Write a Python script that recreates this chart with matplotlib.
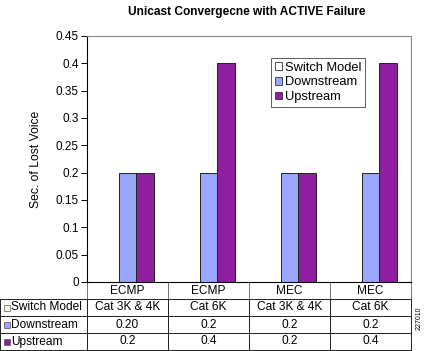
import matplotlib
matplotlib.use("Agg")
import matplotlib.pyplot as plt
from matplotlib.patches import Rectangle
import numpy as np

plt.rcParams["font.family"] = ["Liberation Sans", "DejaVu Sans"]

protocols = ["ECMP", "ECMP", "MEC", "MEC"]
switch_models = ["Cat 3K & 4K", "Cat 6K", "Cat 3K & 4K", "Cat 6K"]
downstream = [0.2, 0.2, 0.2, 0.2]
upstream = [0.2, 0.4, 0.2, 0.4]
downstream_labels = ["0.20", "0.2", "0.2", "0.2"]
upstream_labels = ["0.2", "0.4", "0.2", "0.4"]
yticks = [0, 0.05, 0.1, 0.15, 0.2, 0.25, 0.3, 0.35, 0.4, 0.45]

C_DOWN = "#9aa6ff"
C_UP = "#8e1f9e"
W, H = 425, 351

fig = plt.figure(figsize=(W / 100, H / 100), dpi=100, facecolor="white")
ax = fig.add_axes([87 / W, 1 - 282 / H, 324 / W, 246 / H])

x = np.arange(len(protocols))
bw = 0.222
# first (invisible) slot belongs to the empty "Switch Model" series
ax.bar(x - bw, [0] * len(x), bw, color="white", edgecolor="none", label="Switch Model")
ax.bar(x, downstream, bw, color=C_DOWN, edgecolor="#222222", linewidth=0.7, label="Downstream")
ax.bar(x + bw, upstream, bw, color=C_UP, edgecolor="#222222", linewidth=0.7, label="Upstream")

ax.set_xlim(-0.5, len(x) - 0.5)
ax.set_ylim(0, 0.45)
ax.set_yticks(yticks)
ax.set_yticklabels([f"{t:g}" for t in yticks], fontsize=8.5)
ax.set_xticks([])
ax.tick_params(axis="y", length=4, width=0.7, pad=2)
ax.set_ylabel("Sec. of Lost Voice", fontsize=8.7, labelpad=10)
for s in ["top", "right"]:
    ax.spines[s].set_color("#888888")
    ax.spines[s].set_linewidth(0.8)
for s in ["left", "bottom"]:
    ax.spines[s].set_color("black")
    ax.spines[s].set_linewidth(0.8)

# legend box
handles = [Rectangle((0, 0), 1, 1, facecolor="white", edgecolor="#333333", linewidth=0.6),
           Rectangle((0, 0), 1, 1, facecolor=C_DOWN, edgecolor="#333333", linewidth=0.6),
           Rectangle((0, 0), 1, 1, facecolor=C_UP, edgecolor="#333333", linewidth=0.6)]
leg = ax.legend(handles, ["Switch Model", "Downstream", "Upstream"],
                loc="upper left", bbox_to_anchor=((271 - 87) / 324, (282 - 58) / 246),
                fontsize=9.3, frameon=True, fancybox=False, handlelength=0.55,
                handleheight=0.55, handletextpad=0.25, borderpad=0.3, labelspacing=0.2,
                borderaxespad=0)
leg.get_frame().set_edgecolor("#333333")
leg.get_frame().set_linewidth(0.7)

# data table under the plot
cell_text = [[""] + protocols,
             ["Switch Model"] + switch_models,
             ["Downstream"] + downstream_labels,
             ["Upstream"] + upstream_labels]
tbl = ax.table(cellText=cell_text, cellLoc="center",
               colWidths=[87, 81, 81, 81, 81],
               bbox=[-87 / 324, -(350 - 282) / 246, 411 / 324, (350 - 282) / 246])
tbl.auto_set_font_size(False)
for (r, c), cell in tbl.get_celld().items():
    cell.set_linewidth(0.7)
    cell.set_edgecolor("#222222")
    cell.get_text().set_fontsize(8.6)
    if c == 0:
        cell.PAD = 11 / 87
        cell.get_text().set_horizontalalignment("left")
        cell._loc = "left"
    if r == 0:
        cell.visible_edges = "BLR" if c > 0 else "B"
        if c > 0:
            cell.set_edgecolor("#777777")

# small colour keys beside the row labels
key_colors = ["#f7f7e8", C_DOWN, C_UP]
row_h = 68 / 4
for i, kc in enumerate(key_colors):
    yc = 282 + row_h * (i + 1.5)
    ax.add_patch(Rectangle((3.5 / W, 1 - (yc + 3) / H), 6 / W, 6 / H, transform=fig.transFigure,
                           facecolor=kc, edgecolor="#555555", linewidth=0.5, clip_on=False))

fig.text(247 / W, 1 - 12 / H, "Unicast Convergecne with ACTIVE Failure",
         ha="center", va="center", fontsize=8.6, fontweight="bold")
fig.text(419 / W, 1 - 318 / H, "227010", rotation=90, ha="center", va="center", fontsize=5)

fig.savefig("out.png", dpi=100, facecolor="white")
